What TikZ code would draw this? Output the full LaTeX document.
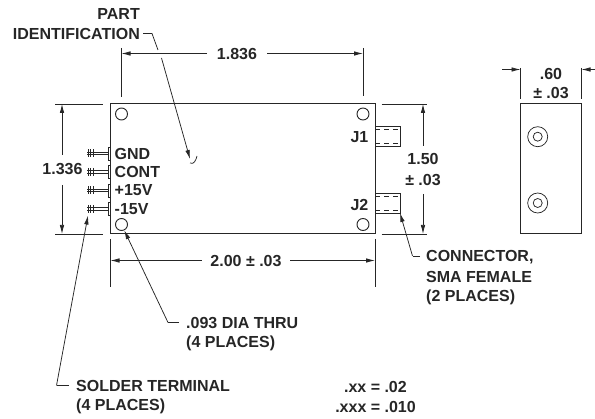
\documentclass[tikz,border=0pt]{standalone}
\usepackage{fontspec}
\setmainfont{Liberation Sans}
\usetikzlibrary{arrows.meta}
\tikzset{
    dimtext/.style={font=\fontsize{16}{18}\selectfont\bfseries, inner sep=0pt, text=black!85},
    outline/.style={line width=1pt, draw=black!85},
    thinline/.style={line width=0.75pt, draw=black!85},
    dimarrow/.style={line width=0.75pt, draw=black!85, -{Latex[length=9pt,width=4.5pt]}},
    holemark/.style={circle, draw=black!85, line width=0.9pt, minimum size=12pt, inner sep=0pt},
}
\begin{document}
\begin{tikzpicture}[x=1pt,y=-1pt]

        \useasboundingbox (0,0) rectangle (595,419);

        % main case
        \draw[outline] (110.5,104) rectangle (375,234);
        \node[holemark] (holeA) at (121.5,114) {};
        \node[holemark] (holeB) at (363,114) {};
        \node[holemark] (holeC) at (121.5,224.5) {};
        \node[holemark] (holeD) at (363,224.5) {};

        % connectors
        \draw[thinline] (375,126.5) rectangle (400,146);
        \draw[thinline,dash pattern=on 5pt off 4pt] (375,129.5) -- (400,129.5);
        \draw[thinline,dash pattern=on 5pt off 4pt] (375,143) -- (400,143);
        \draw[thinline] (375,193.5) rectangle (400,213);
        \draw[thinline,dash pattern=on 5pt off 4pt] (375,196.5) -- (400,196.5);
        \draw[thinline,dash pattern=on 5pt off 4pt] (375,210) -- (400,210);
        \node[dimtext, anchor=east] at (368.5,137) {J1};
        \node[dimtext, anchor=east] at (368.5,204.5) {J2};

        % terminals
        \foreach \y/\name in {153.5/GND,172/CONT,190.5/+15V,209/-15V}{
            \draw[thinline] (108.5,\y-6.5) rectangle (110.5,\y+6.5);
            \draw[thinline] (87,\y-1.2) -- (108.5,\y-1.2);
            \draw[thinline] (87,\y+1.2) -- (108.5,\y+1.2);
            \draw[thinline] (88,\y-4) -- (88,\y+4);
            \draw[thinline] (90.5,\y-4) -- (90.5,\y+4);
            \draw[thinline] (93.5,\y-4) -- (93.5,\y+4);
            \node[dimtext, anchor=west] at (114.5,\y) {\name};
        }

        % 1.836
        \draw[thinline] (121.5,48) -- (121.5,97);
        \draw[thinline] (363,48) -- (363,96);
        \node[dimtext] (topdim) at (237,54) {1.836};
        \coordinate (topL) at (121.5,53.5);
        \coordinate (topR) at (363,53.5);
        \draw[dimarrow] (207,53.5) -- (topL);
        \draw[dimarrow] (267,53.5) -- (topR);

        % 1.336
        \draw[thinline] (55,104) -- (103,104);
        \draw[thinline] (55,234) -- (103,234);
        \node[dimtext] (leftdim) at (62.5,169) {1.336};
        \coordinate (leftT) at (62,104);
        \coordinate (leftB) at (62,234);
        \draw[dimarrow] (62,155) -- (leftT);
        \draw[dimarrow] (62,185) -- (leftB);

        % 2.00
        \draw[thinline] (110.5,239) -- (110.5,287);
        \draw[thinline] (375,239) -- (375,287);
        \node[dimtext] (botdim) at (246,261) {2.00 ± .03};
        \coordinate (botL) at (110.5,260.5);
        \coordinate (botR) at (375,260.5);
        \draw[dimarrow] (201.5,260.5) -- (botL);
        \draw[dimarrow] (290,260.5) -- (botR);

        % 1.50
        \draw[thinline] (381.5,104) -- (427,104);
        \draw[thinline] (381.5,234) -- (427,234);
        \node[dimtext] (rightdim) at (423,159) {1.50};
        \node[dimtext] (righttol) at (423,180) {± .03};
        \coordinate (rightT) at (423,104);
        \coordinate (rightB) at (423,234);
        \draw[dimarrow] (423,146) -- (rightT);
        \draw[dimarrow] (423,194) -- (rightB);

        % side view
        \draw[outline] (520.5,104) rectangle (581.5,234);
        \foreach \y in {136.7,203}{
            \draw[thinline] (537.7,\y) circle [radius=10];
            \draw[thinline] (537.7,\y) circle [radius=4.5];
        }
        \draw[thinline] (520.5,68) -- (520.5,99);
        \draw[thinline] (581.5,68) -- (581.5,99);
        \node[dimtext] (sidedim) at (551,73.5) {.60};
        \node[dimtext] (sidetol) at (551,93.5) {± .03};
        \coordinate (sideL) at (520.5,69.5);
        \coordinate (sideR) at (581.5,69.5);
        \draw[dimarrow] (502,69.5) -- (sideL);
        \draw[dimarrow] (595,69.5) -- (sideR);

        % labels and leaders
        \node[dimtext, anchor=east] (part) at (140,14) {PART};
        \node[dimtext, anchor=east] (ident) at (140,33.5) {IDENTIFICATION};
        \coordinate (partS) at (143,33.5);
        \coordinate (partE) at (152,33.5);
        \coordinate (partG) at (158,50);
        \coordinate (partH) at (161.5,58);
        \coordinate (partB) at (190,159);
        \draw[thinline] (partS) -- (partE) -- (partG);
        \draw[dimarrow] (partH) -- (partB);
        \draw[thinline] (190,163) .. controls (194,165) and (196,160) .. (197,156);

        \node[dimtext, anchor=west] (dia) at (186,323) {.093 DIA THRU};
        \node[dimtext, anchor=west] (diaB) at (186,343) {(4 PLACES)};
        \coordinate (diaS) at (179,322.5);
        \coordinate (diaA) at (168,322.5);
        \draw[thinline] (diaS) -- (diaA);
        \draw[dimarrow] (diaA) -- (holeC);

        \node[dimtext, anchor=west] (solder) at (76,386) {SOLDER TERMINAL};
        \node[dimtext, anchor=west] (solderB) at (76,406) {(4 PLACES)};
        \coordinate (solderS) at (69,385.5);
        \coordinate (solderA) at (56.5,385.5);
        \coordinate (solderT) at (88,215.5);
        \draw[thinline] (solderS) -- (solderA);
        \draw[dimarrow] (solderA) -- (solderT);

        \node[dimtext, anchor=west] (conn) at (426,257) {CONNECTOR,};
        \node[dimtext, anchor=west] (connB) at (426,277) {SMA FEMALE};
        \node[dimtext, anchor=west] (connC) at (426,297) {(2 PLACES)};
        \coordinate (connS) at (420,256);
        \coordinate (connA) at (412.5,256);
        \coordinate (connT) at (400,213);
        \draw[thinline] (connS) -- (connA);
        \draw[dimarrow] (connA) -- (connT);

        \node[dimtext, anchor=east] (tolA) at (407,387) {.xx = .02};
        \node[dimtext, anchor=east] (tolB) at (416,407) {.xxx = .010};
    \end{tikzpicture}
\end{document}
